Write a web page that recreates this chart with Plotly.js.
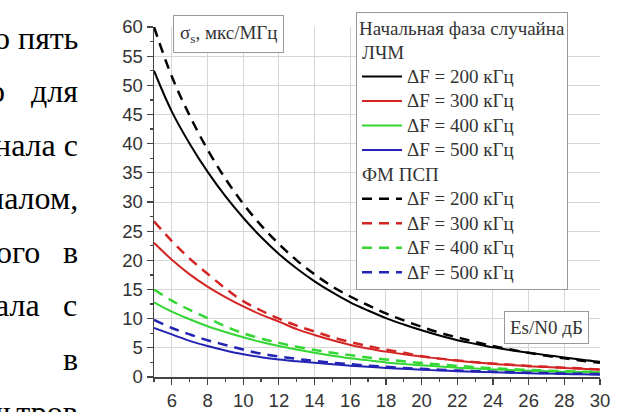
<!DOCTYPE html>
<html>
<head>
<meta charset="utf-8">
<script src="https://cdn.plot.ly/plotly-3.0.1.min.js"></script>
<style>html,body{margin:0;padding:0;background:#fff;}#chart{width:627px;height:412px;}</style>
</head>
<body>
<div id="chart"></div>
<script>
// Es/N0, dB
const esn0 = [5,6,7,8,9,10,11,12,13,14,15,16,17,18,19,20,21,22,23,24,25,26,27,28,29,30];

// ЛЧМ (solid)
const lfm200 = [52.5,45.5,40,35.2,31,27.3,24,21.1,18.6,16.4,14.5,12.8,11.4,10.1,9.0,8.0,7.1,6.3,5.7,5.1,4.6,4.15,3.75,3.35,2.95,2.6];
const lfm300 = [23,20.1,17.6,15.5,13.7,12.1,10.7,9.5,8.2,7.2,6.3,5.5,4.9,4.35,3.9,3.5,3.15,2.8,2.5,2.25,2.05,1.85,1.7,1.55,1.4,1.3];
const lfm400 = [12.8,11.2,9.9,8.7,7.7,6.8,6.0,5.3,4.7,4.15,3.65,3.2,2.85,2.5,2.25,2.0,1.8,1.6,1.45,1.3,1.18,1.08,1.0,0.92,0.86,0.8];
const lfm500 = [8.4,7.3,6.2,5.3,4.55,3.9,3.4,3.0,2.7,2.45,2.2,1.95,1.75,1.55,1.4,1.25,1.12,1.0,0.9,0.8,0.72,0.65,0.58,0.52,0.46,0.4];

// ФМ ПСП (dashed)
const psk200 = [60,51.5,44.8,39.0,34.0,29.7,26.0,22.8,20.0,17.6,15.5,13.8,12.3,10.9,9.7,8.6,7.6,6.8,6.0,5.3,4.7,4.15,3.65,3.2,2.8,2.45];
const psk300 = [26.7,23.3,20.3,17.7,15.2,13.0,11.4,10.0,8.8,7.8,6.8,6.0,5.3,4.7,4.15,3.55,3.15,2.85,2.55,2.3,2.1,1.9,1.75,1.6,1.45,1.3];
const psk400 = [15,13.1,11.5,10.1,8.7,7.5,6.6,5.85,5.2,4.65,4.15,3.75,3.35,3.0,2.7,2.4,2.15,1.9,1.7,1.5,1.35,1.2,1.1,1.0,0.92,0.85];
const psk500 = [9.8,8.4,7.3,6.3,5.5,4.7,4.0,3.5,3.1,2.75,2.45,2.2,1.95,1.75,1.55,1.4,1.25,1.1,1.0,0.9,0.82,0.74,0.67,0.6,0.55,0.5];

const seriesNames = ['ΔF = 200 кГц','ΔF = 300 кГц','ΔF = 400 кГц','ΔF = 500 кГц'];
const colors = ['#000000','#d42525','#33d633','#2323b4'];

const legendTitle = 'Начальная фаза случайна';
const groupTitles = ['ЛЧМ','ФМ ПСП'];
const yTitle = 'σ<sub>s</sub>, мкс/МГц';
const xTitle = 'Es/N0 дБ';

// fragments of the surrounding document text (cropped)
const sideText = [
  ['о пять', 80, 28],
  ['о', 7, 83], ['для', 80, 83],
  ['нала с', 80, 138],
  ['налом,', 80, 193],
  ['ого', 42, 248], ['в', 80, 248],
  ['ала', 42, 303], ['с', 79, 303],
  ['в', 80, 358],
  ['льтров', 80, 413]
];

const serif = 'Liberation Serif, Times New Roman, serif';
const sans = 'Liberation Sans, Arial, sans-serif';
const big = t => '<span style="font-size:19px">' + t + '</span>';

const solid = [lfm200, lfm300, lfm400, lfm500];
const dashed = [psk200, psk300, psk400, psk500];
const traces = [];
solid.forEach((ys, i) => traces.push({
  x: esn0, y: ys, type: 'scatter', mode: 'lines', name: big(seriesNames[i]),
  line: {color: colors[i], width: 2, shape: 'spline'},
  legendgroup: 'lfm', legendgrouptitle: i === 0 ? {text: big(groupTitles[0])} : undefined
}));
dashed.forEach((ys, i) => traces.push({
  x: esn0, y: ys, type: 'scatter', mode: 'lines', name: big(seriesNames[i]),
  line: {color: colors[i], width: 2.5, dash: '10px,7px', shape: 'spline'},
  legendgroup: 'psk', legendgrouptitle: i === 0 ? {text: big(groupTitles[1])} : undefined
}));

const L = 154, R = 600, T = 17, B = 377;
const xp = px => (px - L) / (R - L);
const yp = py => (B - py) / (B - T);

const annotations = sideText.map(([t, x, y]) => ({
  text: t, xref: 'paper', yref: 'paper', x: xp(x), y: yp(y),
  xanchor: 'right', yanchor: 'middle', showarrow: false,
  font: {family: serif, size: 32, color: '#000'}
}));
annotations.push({
  text: yTitle, xref: 'paper', yref: 'paper', x: xp(228), y: yp(24),
  xanchor: 'center', yanchor: 'middle', showarrow: false,
  font: {family: serif, size: 19, color: '#333'},
  bgcolor: '#fff', bordercolor: '#999', borderwidth: 1, borderpad: 6
});
annotations.push({
  text: xTitle, xref: 'paper', yref: 'paper', x: xp(546), y: yp(326),
  xanchor: 'center', yanchor: 'middle', showarrow: false,
  font: {family: serif, size: 19, color: '#333'},
  bgcolor: '#fff', bordercolor: '#999', borderwidth: 1, borderpad: 5
});

const layout = {
  width: 627, height: 412,
  margin: {l: L, r: 627 - R, t: T, b: 412 - B},
  paper_bgcolor: '#fff', plot_bgcolor: '#fff',
  showlegend: true,
  legend: {
    x: xp(356), y: yp(2), xanchor: 'left', yanchor: 'top',
    bgcolor: '#fff', bordercolor: '#999', borderwidth: 1,
    font: {family: serif, size: 16.5, color: '#333'},
    title: {text: big(legendTitle), font: {family: serif, size: 16.5, color: '#333'}},
    grouptitlefont: {family: serif, size: 16.5, color: '#333'},
    tracegroupgap: 0, itemwidth: 40, maxheight: 400
  },
  xaxis: {
    range: [5, 30], tick0: 0, dtick: 2, showgrid: true, gridcolor: '#d6d6d6', gridwidth: 1,
    zeroline: false, showline: true, linecolor: '#444', linewidth: 1.5,
    ticks: 'outside', ticklen: 6, tickcolor: '#444', tickwidth: 1.2,
    minor: {dtick: 1, ticks: 'outside', ticklen: 3, tickcolor: '#444', showgrid: false},
    tickfont: {family: sans, size: 18.5, color: '#333'}
  },
  yaxis: {
    range: [0, 60], dtick: 5, showgrid: true, gridcolor: '#d6d6d6', gridwidth: 1,
    zeroline: false, showline: true, linecolor: '#444', linewidth: 1.5,
    ticks: 'outside', ticklen: 6, tickcolor: '#444', tickwidth: 1.2,
    minor: {dtick: 2.5, ticks: 'outside', ticklen: 3, tickcolor: '#444', showgrid: false},
    tickfont: {family: sans, size: 18.5, color: '#333'}
  },
  annotations: annotations
};

Plotly.newPlot('chart', traces, layout, {staticPlot: true, displayModeBar: false});
</script>
</body>
</html>
